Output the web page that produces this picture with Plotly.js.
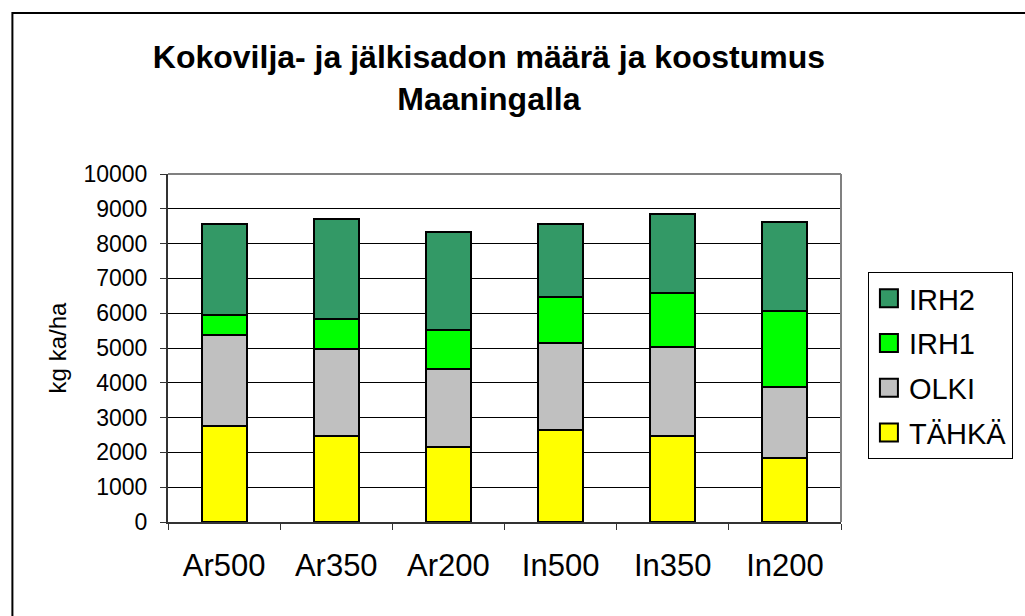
<!DOCTYPE html>
<html>
<head>
<meta charset="utf-8">
<script src="https://cdn.plot.ly/plotly-3.0.1.min.js"></script>
<style>
  html, body { margin: 0; padding: 0; background: #fff; }
  #chart { width: 1025px; height: 616px; }
</style>
</head>
<body>
<div id="chart"></div>
<script>
const categories = ["Ar500", "Ar350", "Ar200", "In500", "In350", "In200"];
const tahka = [2760, 2470, 2160, 2640, 2460, 1850];
const olki  = [2610, 2490, 2250, 2510, 2570, 2030];
const irh1  = [570, 860, 1100, 1320, 1540, 2180];
const irh2  = [2620, 2880, 2810, 2090, 2270, 2550];
const seriesNames = ["TÄHKÄ", "OLKI", "IRH1", "IRH2"];
const seriesColors = ["#FFFF00", "#C0C0C0", "#00FF00", "#339966"];
const yTicks = [0, 1000, 2000, 3000, 4000, 5000, 6000, 7000, 8000, 9000, 10000];

const FONT = "Liberation Sans, Arial, sans-serif";
const seriesValues = [tahka, olki, irh1, irh2];

const traces = seriesValues.map((vals, i) => ({
  type: "bar",
  name: seriesNames[i],
  legendgroup: "g" + i,
  legendrank: 1000 - i,
  x: categories,
  y: vals,
  marker: { color: seriesColors[i], line: { color: "#000", width: 2 } },
  hoverinfo: "x+y+name"
}));

const layout = {
  width: 1025,
  height: 616,
  margin: { l: 168, r: 165, t: 174, b: 94, pad: 0 },
  paper_bgcolor: "#fff",
  plot_bgcolor: "#fff",
  barmode: "stack",
  bargap: 0.6,
  font: { family: FONT, color: "#000" },
  title: {
    text: "<b>Kokovilja- ja jälkisadon määrä ja koostumus<br>Maaningalla</b>",
    font: { family: FONT, size: 32, color: "#000" },
    x: 0.477, xref: "container", xanchor: "center",
    y: 0.889, yref: "container", yanchor: "top"
  },
  xaxis: {
    type: "category",
    tickson: "boundaries",
    ticks: "outside",
    ticklen: 6,
    tickwidth: 1,
    tickcolor: "#333",
    showline: true,
    linecolor: "#333",
    linewidth: 2,
    showgrid: false,
    tickfont: { family: FONT, size: 31, color: "#000" },
    ticklabelstandoff: 15,
    fixedrange: true
  },
  yaxis: {
    range: [0, 10000],
    tickvals: yTicks,
    ticktext: yTicks.map(String),
    ticks: "outside",
    ticklen: 6,
    tickcolor: "#333",
    showline: true,
    linecolor: "#333",
    linewidth: 2,
    showgrid: true,
    gridcolor: "#000",
    gridwidth: 1,
    zeroline: false,
    tickfont: { family: FONT, size: 23, color: "#000" },
    ticklabelstandoff: 8,
    title: { text: "kg ka/ha", font: { family: FONT, size: 24, color: "#000" }, standoff: 10 },
    fixedrange: true
  },
  legend: {
    x: 1.04, xanchor: "left",
    y: 0.7185, yanchor: "top",
    traceorder: "grouped",
    tracegroupgap: 4,
    bgcolor: "#fff",
    bordercolor: "#000",
    borderwidth: 1,
    font: { family: FONT, size: 29, color: "#000" }
  },
  shapes: [
    { type: "line", xref: "paper", yref: "paper", x0: 0, x1: 1, y0: 1, y1: 1, line: { color: "#808080", width: 2 } },
    { type: "line", xref: "paper", yref: "paper", x0: 1, x1: 1, y0: 0, y1: 1, line: { color: "#808080", width: 2 } },
    { type: "rect", xref: "paper", yref: "paper", x0: -0.2312, x1: 2.5, y0: -2.5, y1: 1.4626, line: { color: "#000", width: 2 }, layer: "below" }
  ],
  showlegend: true
};

function enlargeSymbols() {
  document.querySelectorAll("g.legendpoints path").forEach(p => {
    p.setAttribute("d", "M9,9H-9V-9H9Z");
  });
}

const gd = document.getElementById("chart");
Plotly.newPlot(gd, traces, layout, { displayModeBar: false, staticPlot: true }).then(() => {
  enlargeSymbols();
  gd.on && gd.on("plotly_afterplot", enlargeSymbols);
  setTimeout(enlargeSymbols, 0);
  setTimeout(enlargeSymbols, 200);
});
</script>
</body>
</html>
